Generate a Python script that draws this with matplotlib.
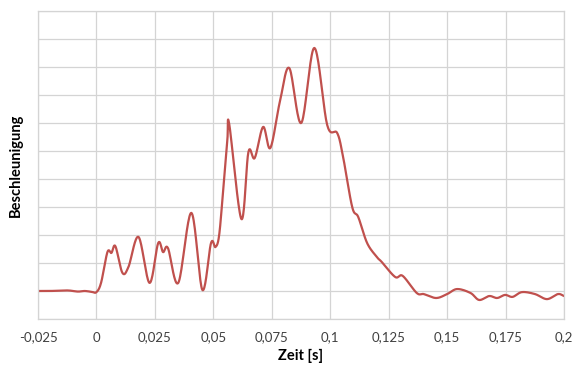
import numpy as np
import matplotlib
matplotlib.use("Agg")
import matplotlib.pyplot as plt

plt.rcParams['font.family'] = ['Lato', 'DejaVu Sans']

# data (time in s, acceleration in arbitrary grid units)
t = [-0.025, -0.02, -0.0125, -0.008, -0.005, -0.002, 0.0, 0.002, 0.0047, 0.0064,
     0.0081, 0.0111, 0.0137, 0.018, 0.0227, 0.0264, 0.0285, 0.0306, 0.035, 0.0406,
     0.0453, 0.049, 0.0509, 0.0525, 0.0543, 0.056, 0.0568, 0.062, 0.065, 0.0677,
     0.0713, 0.0744, 0.0786, 0.0825, 0.0876, 0.0932, 0.0987, 0.103, 0.1055, 0.1094,
     0.112, 0.1158, 0.12, 0.122, 0.1278, 0.131, 0.137, 0.14, 0.1453, 0.15,
     0.1543, 0.16, 0.1637, 0.168, 0.1714, 0.1748, 0.178, 0.182, 0.1876, 0.1927,
     0.1974, 0.2]
a = [1.0, 1.0, 1.02, 0.98, 1.0, 0.97, 0.96, 1.3, 2.39, 2.36,
     2.6, 1.65, 1.86, 2.93, 1.29, 2.71, 2.39, 2.53, 1.29, 3.79,
     1.04, 2.71, 2.57, 3.0, 4.7, 6.4, 6.96, 3.57, 5.96, 5.75,
     6.86, 6.11, 7.82, 8.96, 7.0, 9.68, 6.93, 6.64, 5.79, 4.0,
     3.64, 2.71, 2.21, 2.04, 1.5, 1.54, 0.93, 0.89, 0.75, 0.89,
     1.07, 0.93, 0.68, 0.82, 0.75, 0.86, 0.79, 0.96, 0.89, 0.71,
     0.89, 0.82]

x_ticks = [-0.025, 0, 0.025, 0.05, 0.075, 0.1, 0.125, 0.15, 0.175, 0.2]
x_tick_labels = ['-0,025', '0', '0,025', '0,05', '0,075', '0,1', '0,125', '0,15', '0,175', '0,2']


def smooth(xs, ys, n=20):
    """Catmull-Rom smoothing for display (like a spreadsheet smoothed line)."""
    xs = np.asarray(xs, float); ys = np.asarray(ys, float)
    P = np.column_stack([xs, ys])
    P = np.vstack([P[0] * 2 - P[1], P, P[-1] * 2 - P[-2]])
    out = []
    for i in range(1, len(P) - 2):
        p0, p1, p2, p3 = P[i - 1], P[i], P[i + 1], P[i + 2]
        s = np.linspace(0, 1, n, endpoint=False)[:, None]
        seg = 0.5 * ((2 * p1) + (-p0 + p2) * s + (2 * p0 - 5 * p1 + 4 * p2 - p3) * s ** 2
                     + (-p0 + 3 * p1 - 3 * p2 + p3) * s ** 3)
        out.append(seg)
    out.append(P[-2][None, :])
    out = np.vstack(out)
    return out[:, 0], out[:, 1]


fig = plt.figure(figsize=(5.83, 3.65), dpi=100)
ax = fig.add_axes([38 / 583, 1 - 319 / 365, (564 - 38) / 583, (319 - 11) / 365])

sx, sy = smooth(t, a)
ax.plot(sx, sy, color='#C0504D', lw=1.6, solid_capstyle='round', solid_joinstyle='round')

ax.set_xlim(-0.025, 0.2)
ax.set_ylim(0, 11)
ax.set_xticks(x_ticks)
ax.set_xticklabels(x_tick_labels)
ax.set_yticks(np.arange(0, 12, 1))
ax.set_yticklabels([])
ax.grid(True, color='#D4D4D4', lw=0.9)
ax.set_axisbelow(True)
for s in ax.spines.values():
    s.set_color('#D4D4D4')
    s.set_linewidth(0.9)
ax.tick_params(length=0, labelsize=9.5, colors='#404040', pad=9)

ax.set_xlabel('Zeit [s]', fontsize=10.5, fontweight='bold', color='#000000', labelpad=4)
ax.set_ylabel('Beschleunigung', fontsize=10.5, fontweight='bold', color='#000000', labelpad=2)

fig.savefig('out.png', dpi=100)
